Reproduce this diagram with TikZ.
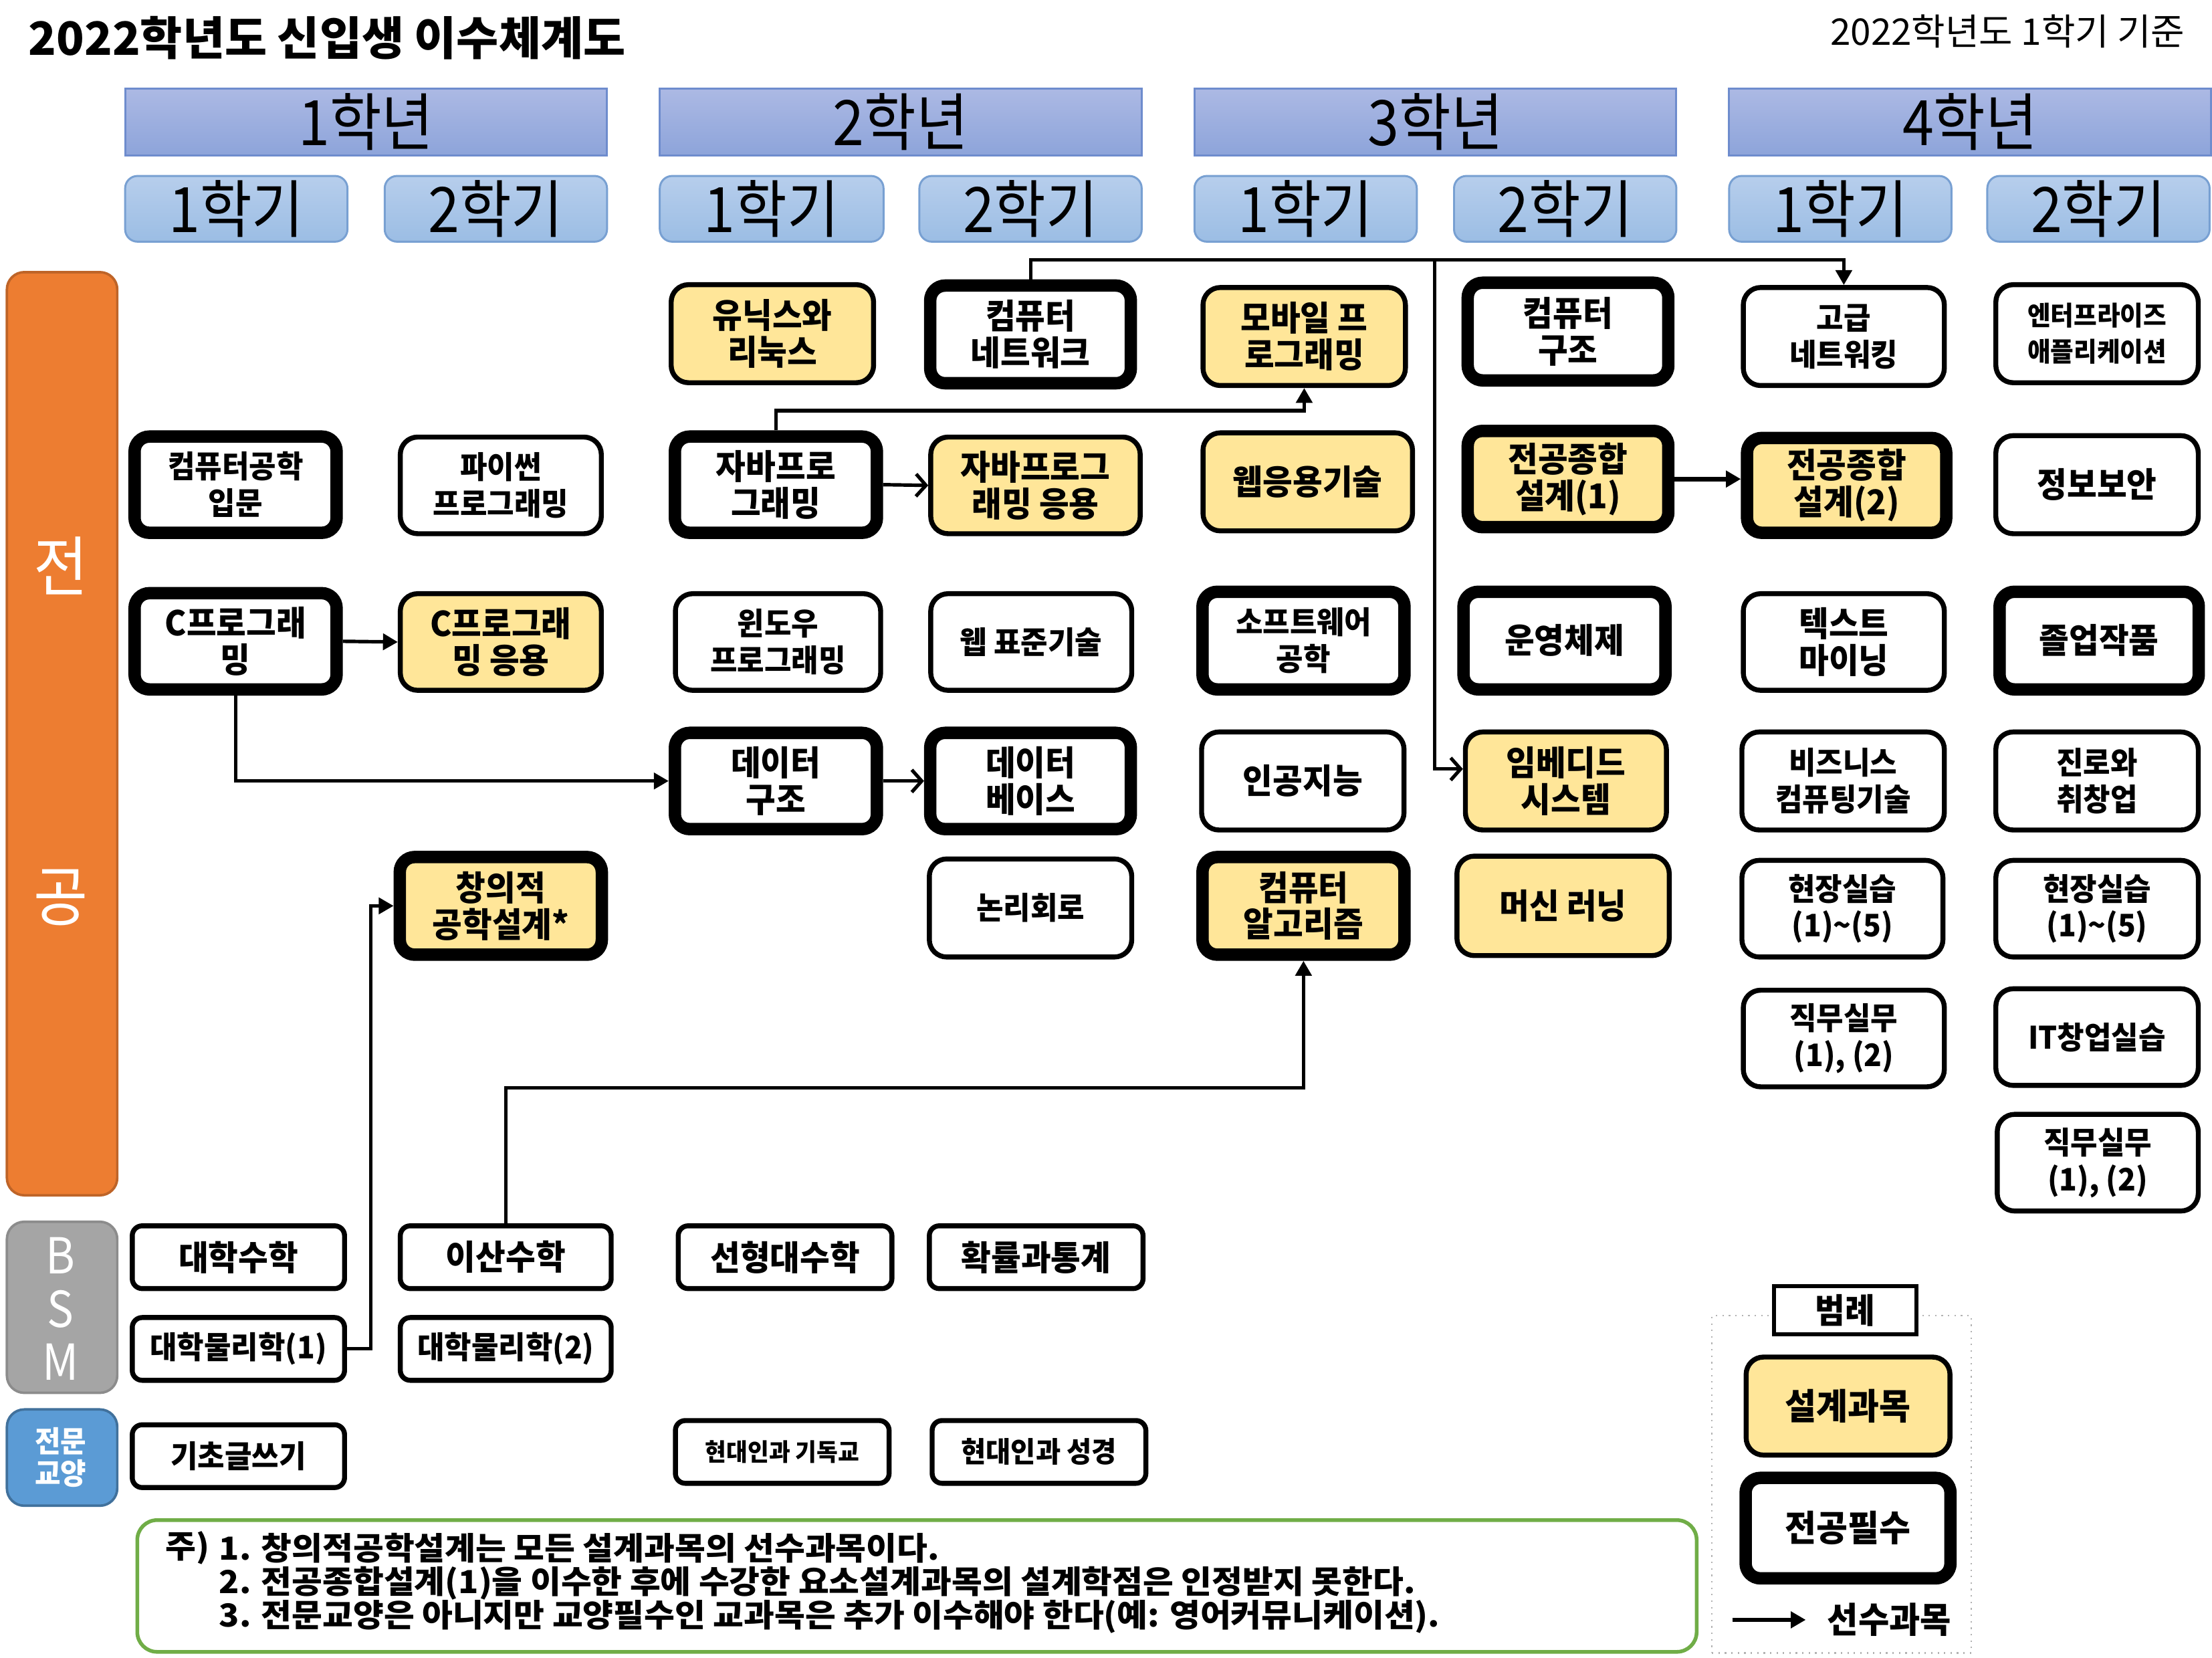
\documentclass[tikz,border=0pt]{standalone}
\usepackage{fontspec}
\usetikzlibrary{arrows.meta}
\newfontfamily\krN{Noto Sans CJK KR}[FakeStretch=0.95]
\newfontfamily\krY{Noto Sans CJK KR}[FakeStretch=0.9]
\newfontfamily\krW{Noto Sans CJK KR}
\newfontfamily\krM{Noto Sans CJK KR}[FakeStretch=1.05]
\definecolor{yel}{RGB}{255,230,153}
\definecolor{orng}{RGB}{237,125,49}
\definecolor{orngD}{RGB}{190,100,40}
\definecolor{gry}{RGB}{165,165,165}
\definecolor{gryD}{RGB}{140,140,140}
\definecolor{blu}{RGB}{91,155,213}
\definecolor{bluD}{RGB}{65,113,156}
\definecolor{grn}{RGB}{112,173,71}
\definecolor{yrT}{RGB}{172,185,228}
\definecolor{yrB}{RGB}{141,164,218}
\definecolor{yrD}{RGB}{110,140,205}
\definecolor{smT}{RGB}{183,206,236}
\definecolor{smB}{RGB}{155,189,228}
\definecolor{smD}{RGB}{120,160,210}
% name, style, inset, x1, y1, x2, y2, text
\newcommand\bx[8]{\node[#2, minimum width={(#6-#4)*0.02cm-#3}, minimum height={(#7-#5)*0.02cm-#3}] (#1) at ({(#4+#6)/2},{(#5+#7)/2}) {#8};}
\begin{document}
\begin{tikzpicture}[x=0.02cm,y=-0.02cm,
  ctext/.style={align=center, inner sep=0pt, font=\krN\bfseries\fontsize{13.8pt}{14.8pt}\selectfont},
  mtext/.style={font=\krN\bfseries\fontsize{12.5pt}{14.8pt}\selectfont},
  thk/.style={ctext, draw, fill=white, line width=5pt, rounded corners=6pt},
  thn/.style={ctext, draw, fill=white, line width=2pt, rounded corners=7pt},
  bsm/.style={ctext, draw, fill=white, line width=2pt, rounded corners=4pt},
  yr/.style={draw=yrD, line width=0.8pt, top color=yrT, bottom color=yrB, inner sep=0pt, font=\krY\fontsize{25.3pt}{27pt}\selectfont},
  sem/.style={draw=smD, line width=0.8pt, top color=smT, bottom color=smB, rounded corners=5pt, inner sep=0pt, font=\krY\fontsize{25.3pt}{27pt}\selectfont},
  side/.style={line width=1pt, rounded corners=7pt, inner sep=0pt},
  sidetext/.style={text=white, inner sep=0pt, font=\krY\fontsize{26.4pt}{28pt}\selectfont},
  notetext/.style={anchor=west, inner sep=0pt, font=\krM\bfseries\fontsize{12.8pt}{14pt}\selectfont},
  conn/.style={line width=1.4pt},
  tri/.style={-{Triangle[length=6pt,width=6.5pt]}},
  barb/.style={-{Straight Barb[length=4pt,width=9pt]}}
]
\useasboundingbox (0,0) rectangle (1568,1175);

% title
\node[anchor=west, inner sep=0pt, font=\krW\bfseries\fontsize{18.5pt}{20pt}\selectfont] (title) at (20,27) {2022학년도 신입생 이수체계도};
\node[anchor=east, inner sep=0pt, font=\krW\fontsize{14.8pt}{16pt}\selectfont] (basis) at (1549,22) {2022학년도 1학기 기준};

% year / semester headers
\bx{y1}{yr}{0.8pt}{88}{62}{431}{111}{1학년}
\bx{y2}{yr}{0.8pt}{467}{62}{810}{111}{2학년}
\bx{y3}{yr}{0.8pt}{846}{62}{1189}{111}{3학년}
\bx{y4}{yr}{0.8pt}{1225}{62}{1568}{111}{4학년}
\bx{s11}{sem}{0.8pt}{88}{124}{247}{172}{1학기}
\bx{s12}{sem}{0.8pt}{272}{124}{431}{172}{2학기}
\bx{s21}{sem}{0.8pt}{467}{124}{627}{172}{1학기}
\bx{s22}{sem}{0.8pt}{651}{124}{810}{172}{2학기}
\bx{s31}{sem}{0.8pt}{846}{124}{1005}{172}{1학기}
\bx{s32}{sem}{0.8pt}{1030}{124}{1189}{172}{2학기}
\bx{s41}{sem}{0.8pt}{1225}{124}{1384}{172}{1학기}
\bx{s42}{sem}{0.8pt}{1408}{124}{1567}{172}{2학기}

% side bars
\bx{major}{side, fill=orng, draw=orngD}{1pt}{4}{192}{84}{848}{}
\node[sidetext] (maj1) at (43,401) {전};
\node[sidetext] (maj2) at (43,636) {공};
\bx{bsmbar}{side, fill=gry, draw=gryD}{1pt}{4}{865}{84}{988}{}
\node[sidetext, font=\krY\fontsize{20pt}{22pt}\selectfont] (bsmB) at (43,890) {B};
\node[sidetext, font=\krY\fontsize{20pt}{22pt}\selectfont] (bsmS) at (43,928) {S};
\node[sidetext, font=\krY\fontsize{20pt}{22pt}\selectfont] (bsmM) at (43,965) {M};
\bx{genbar}{side, fill=blu, draw=bluD}{1pt}{4}{998}{84}{1068}{}
\node[sidetext, align=center, font=\krN\bfseries\fontsize{11.9pt}{13pt}\selectfont] (gentext) at (43,1033) {전문\\교양};

% row 1
\bx{uni}{thn, fill=yel}{2pt}{474}{200}{621}{273}{유닉스와\\리눅스}
\bx{net}{thk}{5pt}{655}{198}{806}{276}{컴퓨터\\네트워크}
\bx{mob}{thn, fill=yel}{2pt}{851}{202}{998}{275}{모바일 프\\로그래밍}
\bx{arch}{thk}{5pt}{1036}{196}{1187}{274}{컴퓨터\\구조}
\bx{adnet}{thn, mtext}{2pt}{1234}{202}{1380}{275}{고급\\네트워킹}
\bx{ent}{thn, font=\krN\bfseries\fontsize{10.7pt}{14.5pt}\selectfont}{2pt}{1413}{200}{1560}{273}{엔터프라이즈\\애플리케이션}
% row 2
\bx{intro}{thk, mtext}{5pt}{91}{305}{243}{382}{컴퓨터공학\\입문}
\bx{py}{thn, mtext}{2pt}{282}{308}{428}{380}{파이썬\\프로그래밍}
\bx{java}{thk}{5pt}{474}{305}{626}{382}{자바프로\\그래밍}
\bx{javaapp}{thn, fill=yel}{2pt}{658}{308}{810}{380}{자바프로그\\래밍 응용}
\bx{webapp}{thn, fill=yel}{2pt}{851}{305}{1003}{378}{웹응용기술}
\bx{capA}{thk, fill=yel}{5pt}{1036}{301}{1187}{378}{전공종합\\설계(1)}
\bx{capB}{thk, fill=yel}{5pt}{1234}{306}{1384}{382}{전공종합\\설계(2)}
\bx{sec}{thn}{2pt}{1413}{307}{1560}{380}{정보보안}
% row 3
\bx{cprog}{thk}{5pt}{91}{416}{243}{493}{C프로그래\\밍}
\bx{capp}{thn, fill=yel}{2pt}{282}{419}{428}{491}{C프로그래\\밍 응용}
\bx{win}{thn, mtext}{2pt}{477}{419}{626}{491}{윈도우\\프로그래밍}
\bx{webstd}{thn, mtext}{2pt}{658}{419}{804}{491}{웹 표준기술}
\bx{se}{thk, mtext}{5pt}{848}{415}{1000}{493}{소프트웨어\\공학}
\bx{os}{thk}{5pt}{1033}{415}{1185}{493}{운영체제}
\bx{tm}{thn}{2pt}{1234}{419}{1380}{491}{텍스트\\마이닝}
\bx{grad}{thk}{5pt}{1413}{415}{1563}{493}{졸업작품}
% row 4
\bx{ds}{thk}{5pt}{474}{515}{626}{592}{데이터\\구조}
\bx{db}{thk}{5pt}{655}{515}{806}{592}{데이터\\베이스}
\bx{ai}{thn}{2pt}{850}{517}{997}{590}{인공지능}
\bx{emb}{thn, fill=yel}{2pt}{1037}{517}{1183}{590}{임베디드\\시스템}
\bx{biz}{thn, mtext}{2pt}{1233}{517}{1380}{590}{비즈니스\\컴퓨팅기술}
\bx{career}{thn, mtext}{2pt}{1413}{517}{1560}{590}{진로와\\취창업}
% row 5
\bx{cre}{thk, fill=yel}{5pt}{279}{603}{431}{681}{창의적\\공학설계*}
\bx{logic}{thn, mtext}{2pt}{657}{607}{804}{680}{논리회로}
\bx{algo}{thk, fill=yel}{5pt}{848}{603}{1000}{681}{컴퓨터\\알고리즘}
\bx{ml}{thn, fill=yel}{2pt}{1031}{605}{1185}{679}{머신 러닝}
\bx{fpA}{thn, mtext}{2pt}{1233}{608}{1379}{680}{현장실습\\(1)\textasciitilde(5)}
\bx{fpB}{thn, mtext}{2pt}{1413}{608}{1560}{680}{현장실습\\(1)\textasciitilde(5)}
% rows 6-7
\bx{jobA}{thn, mtext}{2pt}{1234}{700}{1380}{772}{직무실무\\(1), (2)}
\bx{itst}{thn, mtext}{2pt}{1413}{699}{1560}{771}{IT창업실습}
\bx{jobB}{thn, mtext}{2pt}{1414}{788}{1560}{860}{직무실무\\(1), (2)}

% BSM
\bx{calc}{bsm}{2pt}{92}{867}{246}{915}{대학수학}
\bx{disc}{bsm}{2pt}{282}{867}{435}{915}{이산수학}
\bx{lin}{bsm}{2pt}{479}{867}{634}{915}{선형대수학}
\bx{prob}{bsm}{2pt}{657}{867}{812}{915}{확률과통계}
\bx{physA}{bsm, mtext}{2pt}{92}{932}{246}{980}{대학물리학(1)}
\bx{physB}{bsm, mtext}{2pt}{282}{932}{435}{980}{대학물리학(2)}
% general
\bx{write}{bsm, mtext}{2pt}{92}{1008}{246}{1056}{기초글쓰기}
\bx{chr}{bsm, font=\krN\bfseries\fontsize{9.8pt}{12pt}\selectfont}{2pt}{477}{1005}{632}{1053}{현대인과 기독교}
\bx{bible}{bsm, font=\krN\bfseries\fontsize{11.5pt}{14pt}\selectfont}{2pt}{659}{1005}{814}{1053}{현대인과 성경}

% notes
\bx{note}{draw=grn, line width=1.5pt, rounded corners=8pt, inner sep=0pt}{1.5pt}{96}{1076}{1204}{1172}{}
\node[notetext] (n0) at (117,1097) {주)};
\node[notetext] (n1) at (155,1097) {1. 창의적공학설계는 모든 설계과목의 선수과목이다.};
\node[notetext] (n2) at (155,1122) {2. 전공종합설계(1)을 이수한 후에 수강한 요소설계과목의 설계학점은 인정받지 못한다.};
\node[notetext] (n3) at (155,1146) {3. 전문교양은 아니지만 교양필수인 교과목은 추가 이수해야 한다(예: 영어커뮤니케이션).};

% legend
\bx{legframe}{draw=gray!60, dotted, line width=0.6pt, inner sep=0pt}{0.6pt}{1213}{932}{1398}{1172}{}
\bx{legtitle}{ctext, draw, fill=white, line width=1.6pt}{1.6pt}{1256}{910}{1360}{947}{범례}
\bx{legdesign}{thn, fill=yel, font=\krN\bfseries\fontsize{14.5pt}{16pt}\selectfont}{2pt}{1236}{960}{1384}{1033}{설계과목}
\bx{legreq}{thk, font=\krN\bfseries\fontsize{14.5pt}{16pt}\selectfont}{5pt}{1233}{1043}{1387}{1123}{전공필수}
\coordinate (legA) at (1228,1148);
\coordinate (legB) at (1280,1148);
\node[ctext, anchor=west, font=\krN\bfseries\fontsize{14.3pt}{16pt}\selectfont] (legpre) at (1295,1148) {선수과목};
\draw[conn, tri] (legA) -- (legB);

% connectors
\coordinate (topline) at (0,184);
\coordinate (branch) at (1017,184);
\coordinate (embin) at (0,545);
\coordinate (javaline) at (0,291);
\coordinate (discline) at (0,771);
\draw[conn, tri] (net.north) -- (net.north |- topline) -| (adnet.north);
\draw[conn, barb] (branch) -- (branch |- embin) -- (emb.west |- embin);
\draw[conn, tri] (java.north) -- (java.north |- javaline) -| (mob.south);
\draw[conn, barb] (java.east) -- (javaapp.west);
\draw[conn, tri, line width=1.8pt] (capA.east) -- (capA.east -| capB.west);
\draw[conn, tri] (cprog.east) -- (capp.west);
\draw[conn, tri] (cprog.south) |- (ds.west);
\draw[conn, barb] (ds.east) -- (db.west);
\draw[conn, tri] (physA.east) -- ++(17,0) |- (cre.west);
\draw[conn, tri] (disc.north) -- (disc.north |- discline) -| (algo.south);
\end{tikzpicture}
\end{document}
